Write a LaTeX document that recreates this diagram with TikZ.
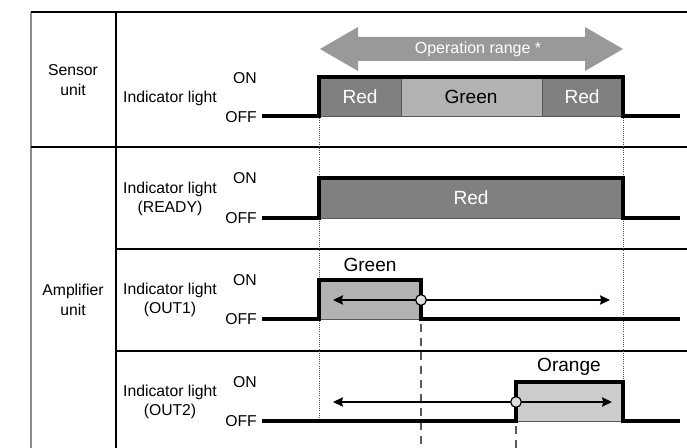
\documentclass[tikz,border=0pt]{standalone}
\usepackage{fontspec}
\setmainfont{Liberation Sans}
\usetikzlibrary{arrows.meta}

\begin{document}
\begin{tikzpicture}[x=0.75pt,y=-0.75pt,>={Stealth[length=7.5pt,width=7pt,inset=1pt]},
                    font=\fontsize{11.8}{14.5}\selectfont]
  \tikzstyle{grid}=[line width=0.9pt]
  \tikzstyle{signal}=[line width=2.3pt]
  \tikzstyle{dark}=[fill=black!50,draw=black!65,line width=0.5pt]
  \tikzstyle{light}=[fill=black!30,draw=black!65,line width=0.5pt]
  \tikzstyle{pale}=[fill=black!20,draw=black!65,line width=0.5pt]
  \tikzstyle{big}=[font=\fontsize{14.3}{17}\selectfont]
  \tikzstyle{every node}=[inner sep=0pt,align=center]
  \tikzstyle{knob}=[draw,line width=0.9pt,fill=black!12]

  \useasboundingbox (0,0) rectangle (687,448);

  \draw[grid,black!45] (31,12) -- (31,448);
  \draw[grid] (31,12) -- (687,12) (116,12) -- (116,448)
              (31,147) -- (687,147) (116,249) -- (687,249) (116,351) -- (687,351);

  \node (sensor) at (73,80) {Sensor\\unit};
  \node (amp)    at (73,300) {Amplifier\\unit};
  \node (ls) at (170,98)  {Indicator light};
  \node (lr) at (170,199) {Indicator light\\(READY)};
  \node (l1) at (170,300) {Indicator light\\(OUT1)};
  \node (l2) at (170,402) {Indicator light\\(OUT2)};
  \foreach \on/\off [count=\i] in {78/117,178/218,280/319,382/421} {
    \node (on\i) at (245,\on) {ON};
    \node[anchor=east] (off\i) at (257,\off) {OFF};
  }

  \fill[black!40] (320,49) -- (358,27) -- (358,37) -- (585,37) -- (585,27) -- (623,49)
                  -- (585,71) -- (585,61) -- (358,61) -- (358,71) -- cycle;
  \node[white,font=\fontsize{12}{14}\selectfont] (range) at (478,49) {Operation range *};

  \draw[densely dotted,black!70,line width=0.6pt] (319,116) -- (319,421) (623,116) -- (623,382);

  \draw[dark]  (319,77) rectangle (401,116);
  \draw[light] (401,77) rectangle (542,116);
  \draw[dark]  (542,77) rectangle (623,116);
  \node[big,white] (r1) at (360,97) {Red};
  \node[big]       (g1) at (471,97) {Green};
  \node[big,white] (r2) at (582,97) {Red};
  \draw[signal] (262,116) -| (319,77) -| (623,116) -- (680,116);

  \draw[dark] (319,178) rectangle (623,218);
  \node[big,white] (r3) at (471,198) {Red};
  \draw[signal] (262,218) -| (319,178) -| (623,218) -- (680,218);

  \draw[light] (319,280) rectangle (421,319);
  \node[big] (g2) at (370,265) {Green};
  \draw[signal] (262,319) -| (319,280) -| (421,319) -- (680,319);
  \draw[<->,line width=1.1pt] (333,300) -- (610,300);
  \draw[dashed,dash pattern=on 6pt off 4.5pt,black!65,line width=1pt] (421,324) -- (421,448);
  \draw[knob] (421,300) circle (4pt);

  \draw[pale] (516,382) rectangle (623,421);
  \node[big] (o2) at (569,367) {Orange};
  \draw[signal] (262,421) -| (516,382) -| (623,421) -- (680,421);
  \draw[<->,line width=1.1pt] (333,402) -- (612,402);
  \draw[dashed,dash pattern=on 6pt off 4.5pt,black!65,line width=1pt] (516,426) -- (516,448);
  \draw[knob] (516,402) circle (4pt);
\end{tikzpicture}
\end{document}
